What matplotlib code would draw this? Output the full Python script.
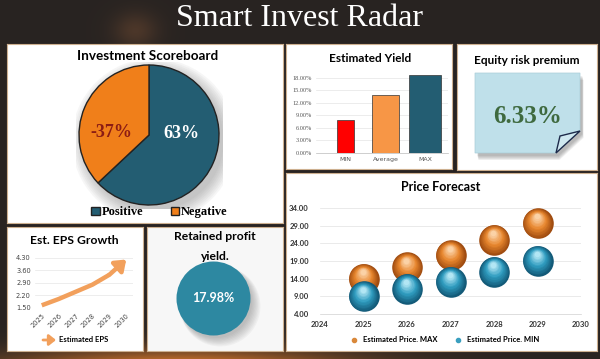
import numpy as np
import matplotlib.pyplot as plt
import matplotlib.transforms as mtransforms
from matplotlib.patches import Circle, Polygon
from matplotlib.lines import Line2D

# data
score_labels = ['Positive', 'Negative']
score_values = [63, 37]
score_text = ['63%', '-37%']

yield_labels = ['MIN', 'Average', 'MAX']
yield_values = [7.9, 13.8, 18.7]

equity_premium = '6.33%'

years = [2025, 2026, 2027, 2028, 2029]
price_max = [14.0, 17.2, 20.6, 25.0, 29.7]
price_min = [9.0, 11.1, 13.1, 16.0, 19.0]

eps_years = ['2025', '2026', '2027', '2028', '2029', '2030']
eps_values = [1.65, 2.0, 2.4, 2.8, 3.35, 4.2]

retained_yield = '17.98%'

W, H = 600, 359
SANS = ['Lato', 'DejaVu Sans']
SERIF = ['Liberation Serif', 'DejaVu Serif']
TEAL = '#235d72'
ORANGE = '#f07f1a'

fig = plt.figure(figsize=(6, 3.59), dpi=100)


def box(l, t, r, b):
    return [l / W, 1 - b / H, (r - l) / W, (b - t) / H]


def panel(l, t, r, b, fc='white'):
    # axes whose data units are image pixels (y downwards)
    ax = fig.add_axes(box(l, t, r, b))
    ax.set_xlim(l, r)
    ax.set_ylim(b, t)
    ax.set_facecolor(fc)
    ax.set_xticks([])
    ax.set_yticks([])
    for s in ax.spines.values():
        s.set_color('#cdb090')
        s.set_linewidth(0.8)
    return ax


# background with orange glow at the bottom
bg = fig.add_axes([0, 0, 1, 1])
yy, xx = np.mgrid[0:H, 0:W]
glow = np.exp(-((xx - 180) / 170.0) ** 2 - ((yy - 372) / 22.0) ** 2)
blob = 0.35 * np.exp(-((xx - 135) / 22.0) ** 2 - ((yy - 30) / 18.0) ** 2)
base = np.array([0.16, 0.14, 0.13])
orng = np.array([0.95, 0.52, 0.18])
img = base[None, None, :] * (1 - glow[..., None]) + orng[None, None, :] * glow[..., None]
img = img * (1 - blob[..., None]) + np.array([0.55, 0.35, 0.22])[None, None, :] * blob[..., None]
bg.imshow(np.clip(img, 0, 1), extent=(0, W, H, 0), aspect='auto')
bg.axis('off')

fig.text(0.5, 1 - 18 / H, 'Smart Invest Radar', ha='center', va='center',
         color='white', fontsize=23, family=SERIF)

# ---------------- Investment Scoreboard ----------------
p1 = panel(7, 44, 283, 223)
p1.text(148, 56, 'Investment Scoreboard', ha='center', va='center',
        fontsize=9.7, fontweight='bold', family=SANS)
cx, cy, r = 149, 135, 70
pad = 1.05
axp = fig.add_axes(box(cx - r * pad, cy - r * pad, cx + r * pad, cy + r * pad))
for k in range(8):
    axp.add_patch(Circle((0.07, -0.08), 1.0 + 0.025 * k, color='#606060',
                         alpha=0.05, lw=0))
wedges, _ = axp.pie(score_values, colors=[TEAL, ORANGE], startangle=90,
                    counterclock=False,
                    wedgeprops=dict(edgecolor='#222222', linewidth=1.0))
axp.set_xlim(-pad, pad)
axp.set_ylim(-pad, pad)
axp.text(0.47, 0.02, score_text[0], ha='center', va='center', color='white',
         fontsize=13, fontweight='bold', family=SERIF)
axp.text(-0.54, 0.03, score_text[1], ha='center', va='center', color='#8b1c14',
         fontsize=13, fontweight='bold', family=SERIF)
axp.legend(wedges, score_labels, loc='center', bbox_to_anchor=(0.57, -0.026),
           ncol=2, frameon=False, handlelength=0.7, handleheight=0.7,
           handletextpad=0.15, columnspacing=2.2, borderaxespad=0,
           prop=dict(family=SERIF, weight='bold', size=9))

# ---------------- Estimated Yield ----------------
p2 = panel(286, 44, 452, 169)
p2.text(370, 59, 'Estimated Yield', ha='center', va='center',
        fontsize=8.5, fontweight='bold', family=SANS)
y_top = 152.7 - 19.5 * 4.15
axy = fig.add_axes(box(316, y_top, 448, 152.7))
axy.set_facecolor('none')
axy.bar(range(3), yield_values, width=[0.43, 0.7, 0.8],
        color=['#ff0000', '#f79646', TEAL], edgecolor='#333333',
        linewidth=0.5, zorder=3)
axy.set_xlim(-0.75, 2.57)
axy.set_ylim(0, 19.5)
axy.set_yticks(np.arange(0, 19, 3))
axy.set_yticklabels([f'{v:.2f}%' for v in np.arange(0, 19, 3)])
axy.set_xticks(range(3))
axy.set_xticklabels(yield_labels)
axy.tick_params(length=0, labelsize=4.5, colors='#555555', pad=3)
for lab in axy.get_yticklabels():
    lab.set_family(SERIF)
axy.grid(axis='y', color='#e4e4e4', lw=0.5, zorder=0)
for s in ['top', 'right', 'left']:
    axy.spines[s].set_visible(False)
axy.spines['bottom'].set_color('#bbbbbb')
axy.spines['bottom'].set_linewidth(0.5)

# ---------------- Equity risk premium ----------------
p3 = panel(457, 44, 597, 170)
p3.text(527, 61, 'Equity risk premium', ha='center', va='center',
        fontsize=8.5, fontweight='bold', family=SANS)
note = [(475, 73), (580, 73), (580, 131), (556, 153), (475, 153)]
for k in range(6):
    d = 1 + k * 0.8
    p3.add_patch(Polygon([(x + 2 + d * 0.3, y + 2 + d) for x, y in note],
                         closed=True, fc='#404040', alpha=0.07, lw=0))
p3.add_patch(Polygon(note, closed=True, fc='#bfe0ea', ec='#a9cdd8', lw=0.5))
p3.add_patch(Polygon([(556, 153), (560, 136), (580, 131)], closed=True,
                     fc='#cfe8f0', ec='#1d2a4a', lw=1.0))
p3.text(528, 117, equity_premium, ha='center', va='center', color='#3f6a3f',
        fontsize=18, fontweight='bold', family=SERIF)

# ---------------- Price Forecast ----------------
p4 = panel(286, 173, 597, 351)
p4.text(441, 187, 'Price Forecast', ha='center', va='center',
        fontsize=9, fontweight='bold', family=SANS)
axf = fig.add_axes(box(320, 208, 581, 314))
axf.set_facecolor('none')
axf.set_xlim(2024, 2030)
axf.set_ylim(4, 34)
axf.set_yticks(np.arange(4, 35, 5))
axf.set_yticklabels([f'{v:.2f}' for v in np.arange(4, 35, 5)])
axf.set_xticks(range(2024, 2031))
axf.tick_params(length=0, labelsize=5.5, colors='#333333')
axf.tick_params(axis='y', pad=8)
axf.tick_params(axis='x', pad=5)
for lab in axf.get_xticklabels() + axf.get_yticklabels():
    lab.set_fontweight('bold')
    lab.set_family(SANS)
axf.grid(axis='y', color='#e2e2e2', lw=0.5, zorder=0)
for s in ['top', 'right', 'left']:
    axf.spines[s].set_visible(False)
axf.spines['bottom'].set_color('#d0d0d0')
axf.spines['bottom'].set_linewidth(0.5)


def spheres(ax, xs, ys, dark, mid, light, z0):
    d = 22.0  # diameter in points
    n = 14
    dark, mid, light = (np.array(plt.matplotlib.colors.to_rgb(c)) for c in (dark, mid, light))
    for k in range(n):
        t = k / (n - 1)
        if t < 0.5:
            col = dark + (mid - dark) * (t / 0.5)
        else:
            col = mid + (light - mid) * ((t - 0.5) / 0.5)
        size = d * (1 - 0.82 * t)
        tr = mtransforms.offset_copy(ax.transData, fig=fig, x=-0.5 * t,
                                     y=d * 0.22 * t, units='points')
        ax.scatter(xs, ys, s=size ** 2, color=col, lw=0, transform=tr,
                   zorder=z0 + k, clip_on=False)


spheres(axf, years, price_max, '#a04c10', '#e8862e', '#fbd2a6', 5)
spheres(axf, years, price_min, '#135a78', '#2f9cc0', '#b2e6f4', 30)
handles = [Line2D([], [], marker='o', ls='', color='#d9883a', markersize=3),
           Line2D([], [], marker='o', ls='', color='#3a9fbf', markersize=3)]
fig.legend(handles, ['Estimated Price. MAX', 'Estimated Price. MIN'],
           loc='center', bbox_to_anchor=(443 / W, 1 - 340 / H), ncol=2,
           frameon=False, handletextpad=0.2, columnspacing=1.6,
           prop=dict(family=SANS, weight='bold', size=5.5))

# ---------------- Est. EPS Growth ----------------
p5 = panel(7, 227, 143, 351)
p5.text(74, 240, 'Est. EPS Growth', ha='center', va='center',
        fontsize=8.7, fontweight='bold', family=SANS)
axe = fig.add_axes(box(35, 257.7, 133, 308))
axe.set_facecolor('none')
xs = np.arange(len(eps_years))
axe.plot(xs[:-1], eps_values[:-1], color='#f2a05c', lw=3.2,
         solid_capstyle='butt', zorder=3)
axe.annotate('', xy=(xs[-1], eps_values[-1]), xytext=(xs[-2], eps_values[-2]),
             arrowprops=dict(arrowstyle='-|>,head_length=0.6,head_width=0.45',
                             color='#f2a05c', lw=3.2, shrinkA=0, shrinkB=0,
                             mutation_scale=10), zorder=3)
axe.set_xlim(-0.4, 5.4)
axe.set_ylim(1.5, 4.3)
axe.set_yticks([1.5, 2.2, 2.9, 3.6, 4.3])
axe.set_yticklabels(['1.50', '2.20', '2.90', '3.60', '4.30'])
axe.set_xticks(xs)
axe.set_xticklabels(eps_years, rotation=45, ha='right', rotation_mode='anchor')
axe.tick_params(length=0, labelsize=4.8, colors='#444444', pad=3)
axe.grid(axis='y', color='#e6e6e6', lw=0.5, zorder=0)
for s in axe.spines.values():
    s.set_visible(False)
p5.annotate('', xy=(56, 340), xytext=(43, 340),
            arrowprops=dict(arrowstyle='-|>,head_length=0.5,head_width=0.4',
                            color='#f2a05c', lw=2, shrinkA=0, shrinkB=0,
                            mutation_scale=8))
p5.text(59, 340, 'Estimated EPS', ha='left', va='center', fontsize=5.5,
        fontweight='bold', family=SANS)

# ---------------- Retained profit yield ----------------
p6 = panel(147, 227, 283, 351, fc='#f7f7f7')
p6.text(215, 237, 'Retained profit', ha='center', va='center',
        fontsize=8.7, fontweight='bold', family=SANS)
p6.text(215, 256, 'yield.', ha='center', va='center',
        fontsize=8.7, fontweight='bold', family=SANS)
for k in range(8):
    p6.add_patch(Circle((216 + k * 0.6, 302 + k * 0.6), 36 + k * 0.6,
                        color='#555555', alpha=0.05, lw=0))
p6.add_patch(Circle((213.5, 298.5), 37, color='#2d88a1', lw=0))
p6.text(213.5, 298.5, retained_yield, ha='center', va='center', color='white',
        fontsize=9, fontweight='bold', family=SANS)

fig.savefig('out.png', dpi=100)
